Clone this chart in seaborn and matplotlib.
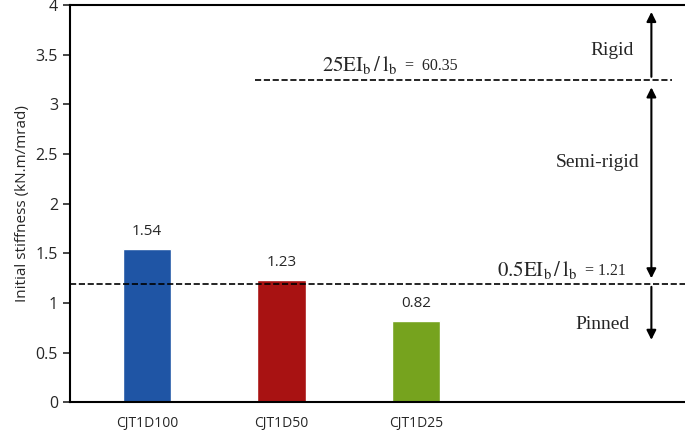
# Initial stiffness of the CJT1D joints with the rigid / pinned limits
import matplotlib
matplotlib.use('Agg')
import matplotlib.pyplot as plt
import seaborn as sns

joints = ['CJT1D100', 'CJT1D50', 'CJT1D25']
stiffness = [1.54, 1.23, 0.82]
bar_colors = ['#1F55A5', '#A81212', '#76A31E']

rigid_limit = 3.25     # drawn position of the 25EI/l line
pinned_limit = 1.19    # drawn position of the 0.5EI/l line
rigid_value = '60.35'
pinned_value = '1.21'

sns.set_style('ticks')
plt.rcParams['font.family'] = ['Open Sans', 'DejaVu Sans']
plt.rcParams['mathtext.fontset'] = 'stix'

fig = plt.figure(figsize=(6.85, 4.32), dpi=100)
ax = fig.add_axes([0.102, 0.069, 0.898, 0.919])

sns.barplot(x=joints, y=stiffness, hue=joints, palette=bar_colors,
            width=0.36, saturation=1, legend=False, ax=ax)

for i, v in enumerate(stiffness):
    ax.text(i, v + 0.1, f'{v:.2f}', ha='center', va='bottom', fontsize=11)

ax.set_xlim(-0.575, 4.0)
ax.set_ylim(0, 4)
ax.set_yticks([0, 0.5, 1, 1.5, 2, 2.5, 3, 3.5, 4])
ax.set_yticklabels(['0', '0.5', '1', '1.5', '2', '2.5', '3', '3.5', '4'])
ax.set_ylabel('Initial stiffness (kN.m/mrad)', fontsize=11)
ax.tick_params(axis='y', labelsize=11.5, length=5, width=1.2)
ax.tick_params(axis='x', labelsize=10, length=0, pad=10)
for s in ['left', 'bottom', 'top']:
    ax.spines[s].set_linewidth(1.5)
    ax.spines[s].set_color('black')
ax.spines['right'].set_visible(False)

# limit lines
ax.plot([0.8, 3.9], [rigid_limit, rigid_limit], ls='--', color='black', lw=1.2)
ax.axhline(pinned_limit, ls='--', color='black', lw=1.2)

serif = ['Liberation Serif', 'DejaVu Serif']
t1 = ax.text(1.30, 3.34, r'$\mathrm{25EI_b\,/\,l_b}$', fontsize=15,
             ha='left', va='baseline')
ax.annotate('  =  ' + rigid_value, xy=(1, 0.28), xycoords=t1, fontsize=11.5,
            family=serif, ha='left', va='baseline')
t2 = ax.text(2.60, 1.27, r'$\mathrm{0.5EI_b\,/\,l_b}$', fontsize=15,
             ha='left', va='baseline')
ax.annotate('  = ' + pinned_value, xy=(1, 0.28), xycoords=t2, fontsize=11.5,
            family=serif, ha='left', va='baseline')

ax.text(3.46, 3.46, 'Rigid', fontsize=14, family=serif, ha='center', va='bottom')
ax.text(3.35, 2.42, 'Semi-rigid', fontsize=14, family=serif, ha='center', va='center')
ax.text(3.39, 0.78, 'Pinned', fontsize=14, family=serif, ha='center', va='center')

# region arrows
xa = 3.75
arrow = dict(arrowstyle='-|>', color='black', lw=1.5, mutation_scale=14)
darrow = dict(arrowstyle='<|-|>', color='black', lw=1.5, mutation_scale=14)
ax.annotate('', xy=(xa, 3.96), xytext=(xa, rigid_limit), arrowprops=arrow)
ax.annotate('', xy=(xa, 3.2), xytext=(xa, 1.22), arrowprops=darrow)
ax.annotate('', xy=(xa, 0.6), xytext=(xa, pinned_limit), arrowprops=arrow)

fig.savefig('out.png', dpi=100)
